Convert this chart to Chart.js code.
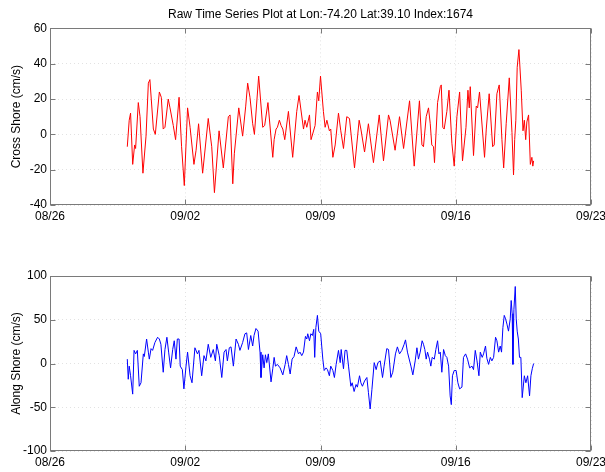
<!DOCTYPE html>
<html lang="en">
<head>
    <meta charset="UTF-8">
    <title>Raw Time Series Plot</title>
    <script src="https://cdn.jsdelivr.net/npm/chart.js"></script>
    <style>
        body { margin: 0; background: #fff; }
        .panel { position: absolute; left: 0; width: 605px; height: 236px; }
        #topPanel { top: 0; }
        #bottomPanel { top: 236px; }
    </style>
</head>
<body>
    <div class="panel" id="topPanel"><canvas id="crossChart" width="605" height="236"></canvas></div>
    <div class="panel" id="bottomPanel"><canvas id="alongChart" width="605" height="236"></canvas></div>

    <script>
        // x values are days after 08/26
        const dateLabels = ['08/26', '09/02', '09/09', '09/16', '09/23'];

        const crossDays = [
            4.00, 4.10, 4.17, 4.28, 4.38, 4.43, 4.57, 4.66, 4.81, 4.97,
            5.09, 5.17, 5.35, 5.45, 5.66, 5.76, 5.86, 5.95, 6.12, 6.21,
            6.38, 6.50, 6.68, 6.81, 6.95, 7.12, 7.25, 7.45, 7.56, 7.69,
            7.90, 8.19, 8.37, 8.51, 8.75, 8.97, 9.23, 9.32, 9.46, 9.54,
            9.77, 9.97, 10.13, 10.23, 10.35, 10.49, 10.58, 10.80, 11.01, 11.11,
            11.28, 11.53, 11.60, 11.70, 11.77, 11.87, 11.96, 12.05, 12.15, 12.34,
            12.56, 12.77, 12.89, 13.12, 13.20, 13.29, 13.43, 13.51, 13.72, 13.84,
            13.91, 14.00, 14.15, 14.24, 14.33, 14.46, 14.53, 14.64, 14.76, 14.93,
            15.05, 15.19, 15.36, 15.50, 15.76, 16.00, 16.09, 16.28, 16.48, 16.74,
            17.04, 17.26, 17.52, 17.60, 17.86, 18.09, 18.30, 18.47, 18.61, 18.85,
            19.12, 19.25, 19.33, 19.47, 19.59, 19.68, 19.76, 19.85, 19.90, 20.06,
            20.20, 20.25, 20.33, 20.40, 20.54, 20.65, 20.80, 20.92, 21.06, 21.20,
            21.35, 21.53, 21.63, 21.70, 21.75, 21.92, 22.06, 22.13, 22.23, 22.49,
            22.58, 22.73, 22.91, 22.99, 23.13, 23.25, 23.39, 23.48, 23.61, 23.77,
            23.91, 23.99, 24.05, 24.11, 24.18, 24.27, 24.39, 24.48, 24.55, 24.62,
            24.68, 24.77, 24.86, 24.94, 24.99, 25.03
        ];
        const crossShore = [
            -7, 8, 12, -17, -6, -8, 18, 10, -22, -1,
            29, 31, 3, 0, 24, 21, 3, 4, 20, 15,
            5, -3, 21, -7, -29, 15, 4, -17, -9, 6,
            -22, 9, -7, -33, 2, -19, 10, 11, -28, -11,
            15, -1, 16, 29, 21, 6, 0, 33, 4, 5,
            18, -13, -3, 3, 4, 8, 5, 3, -3, 13,
            -13, 13, 22, 3, 8, 4, 11, -3, 5, 24,
            19, 33, 13, 4, 8, 2, 3, -13, -6, 12,
            2, -8, 10, 9, -19, 8, 3, -10, 6, -16,
            11, -15, 11, 8, -9, 10, -8, 7, 19, -18,
            19, -6, -7, 10, 15, 6, -6, -7, -16, 18,
            27, 28, 4, 3, 13, 25, -5, -18, 10, 24,
            -15, 4, 25, 15, 27, -12, 16, 15, 24, -13,
            3, 23, -7, -6, 23, 28, -3, -19, 6, 32,
            1, -23, -3, 8, 38, 48, 25, 2, 8, -3,
            7, 11, -17, -13, -18, -15
        ];

        const alongDays = [
            4.00, 4.05, 4.10, 4.17, 4.28, 4.35, 4.43, 4.52, 4.62, 4.71,
            4.83, 4.88, 5.00, 5.09, 5.14, 5.23, 5.31, 5.43, 5.57, 5.66,
            5.74, 5.86, 5.95, 6.05, 6.14, 6.24, 6.35, 6.43, 6.52, 6.59,
            6.68, 6.74, 6.85, 6.93, 7.04, 7.12, 7.25, 7.35, 7.50, 7.63,
            7.71, 7.85, 7.97, 8.07, 8.19, 8.32, 8.45, 8.56, 8.63, 8.76,
            8.89, 9.01, 9.11, 9.18, 9.28, 9.37, 9.49, 9.63, 9.75, 9.83,
            9.97, 10.09, 10.18, 10.27, 10.39, 10.49, 10.56, 10.66, 10.77, 10.87,
            10.92, 11.01, 11.08, 11.15, 11.22, 11.30, 11.44, 11.53, 11.60, 11.67,
            11.77, 11.91, 12.05, 12.17, 12.25, 12.34, 12.43, 12.53, 12.63, 12.74,
            12.86, 12.94, 13.03, 13.12, 13.22, 13.29, 13.34, 13.43, 13.50, 13.58,
            13.65, 13.70, 13.76, 13.84, 13.91, 14.01, 14.12, 14.19, 14.29, 14.36,
            14.46, 14.53, 14.64, 14.72, 14.81, 14.93, 15.02, 15.07, 15.19, 15.27,
            15.36, 15.45, 15.57, 15.64, 15.74, 15.84, 15.91, 16.02, 16.09, 16.17,
            16.28, 16.40, 16.48, 16.57, 16.66, 16.78, 16.88, 16.97, 17.09, 17.21,
            17.29, 17.43, 17.52, 17.64, 17.74, 17.88, 17.98, 18.09, 18.21, 18.33,
            18.40, 18.50, 18.68, 18.78, 18.90, 18.99, 19.07, 19.16, 19.26, 19.33,
            19.40, 19.47, 19.54, 19.64, 19.71, 19.78, 19.89, 19.97, 20.06, 20.13,
            20.20, 20.28, 20.37, 20.46, 20.54, 20.63, 20.71, 20.77, 20.83, 20.92,
            21.02, 21.11, 21.20, 21.32, 21.40, 21.51, 21.61, 21.72, 21.84, 21.92,
            22.01, 22.10, 22.20, 22.27, 22.37, 22.44, 22.54, 22.61, 22.70, 22.79,
            22.87, 22.96, 23.06, 23.13, 23.22, 23.30, 23.37, 23.44, 23.51, 23.58,
            23.65, 23.73, 23.82, 23.87, 23.92, 23.96, 24.01, 24.08, 24.13, 24.18,
            24.24, 24.30, 24.37, 24.44, 24.55, 24.63, 24.72, 24.82, 24.89, 24.96,
            25.03
        ];
        const alongShore = [
            5, -18, -3, -14, -35, 15, 11, 15, -26, -22,
            11, 8, 28, 13, 5, 17, 15, 24, 30, 28,
            22, -10, 16, 30, 13, -5, 16, 26, 5, 28,
            28, -3, -7, -29, -3, 13, -14, -22, 18, 11,
            15, -14, 9, 3, 22, 7, 16, 3, 22, 9,
            -16, 13, 16, 3, 18, 19, -3, 28, 22, 15,
            24, 34, 35, 16, 32, 20, 32, 40, 37, 13,
            -16, 10, -5, 10, 1, 11, -21, -6, 7, -3,
            -1, -5, -13, -1, 9, -1, -12, 5, 8, 19,
            11, 13, 9, 13, 31, 28, 34, 26, 34, 32,
            39, 7, 41, 55, 37, 34, 5, -8, -5, -7,
            -14, -3, -8, -16, -1, 15, 1, 16, -6, 15,
            15, -3, -26, -22, -32, -24, -27, -14, -22, -26,
            -20, -16, -33, -52, -30, 1, -7, 1, 3, -16,
            -3, 17, 16, -16, -10, 11, 19, 11, 15, 22,
            27, 13, -3, -13, 3, 18, 5, 13, 26, 22,
            16, 5, 13, 5, -3, 7, 5, 16, 26, 11,
            13, -10, 16, 9, 7, -3, -37, -47, -14, -8,
            -8, -22, -29, -27, 7, 11, 5, -5, -3, -7,
            15, 3, -14, 13, 7, 11, 20, 6, -1, 7,
            3, 7, 30, 26, 13, 20, 13, 41, 55, 51,
            45, 37, 51, 72, 57, -1, 62, 88, 51, 37,
            28, 7, 7, -39, -14, -22, -14, -37, -14, -6,
            0
        ];

        const font = { family: '"Liberation Sans", Arial, Helvetica, sans-serif', size: 12 };
        Chart.defaults.font = font;
        Chart.defaults.color = '#000';

        // box around the plot area and inward tick marks
        const boxTicks = {
            id: 'boxTicks',
            afterDatasetsDraw(chart) {
                const { ctx, chartArea: a, scales: { x, y } } = chart;
                const L = Math.round(a.left) + 0.5, R = Math.round(a.right) - 0.5;
                const T = Math.round(a.top) + 0.5, B = Math.round(a.bottom) - 0.5;
                ctx.save();
                ctx.strokeStyle = '#7a7a7a';
                ctx.lineWidth = 1;
                ctx.strokeRect(L, T, R - L, B - T);
                ctx.beginPath();
                x.ticks.forEach(t => {
                    const px = Math.round(x.getPixelForValue(t.value)) + 0.5;
                    ctx.moveTo(px, B); ctx.lineTo(px, B - 5);
                    ctx.moveTo(px, T); ctx.lineTo(px, T + 5);
                });
                y.ticks.forEach(t => {
                    const py = Math.round(y.getPixelForValue(t.value)) + 0.5;
                    ctx.moveTo(L, py); ctx.lineTo(L + 5, py);
                    ctx.moveTo(R, py); ctx.lineTo(R - 5, py);
                });
                ctx.stroke();
                ctx.restore();
            }
        };

        function makeChart(id, days, values, color, yMin, yMax, yStep, yTitle, opts) {
            const points = days.map((d, i) => ({ x: d, y: values[i] }));
            return new Chart(document.getElementById(id), {
                type: 'line',
                data: {
                    datasets: [{
                        data: points,
                        borderColor: color,
                        borderWidth: 1,
                        pointRadius: 0,
                        tension: 0,
                        fill: false
                    }]
                },
                options: {
                    responsive: false,
                    animation: false,
                    layout: { padding: { top: opts.padTop, right: 14, left: 0, bottom: 0 } },
                    plugins: {
                        legend: { display: false },
                        tooltip: { enabled: false },
                        title: opts.title ? {
                            display: true,
                            text: opts.title,
                            fullSize: false,
                            font: { ...font, weight: 'normal' },
                            color: '#000',
                            padding: { top: 7, bottom: 7 }
                        } : { display: false }
                    },
                    scales: {
                        x: {
                            type: 'linear',
                            min: 0,
                            max: 28,
                            grid: { color: '#e2e2e2', drawTicks: false },
                            border: { display: false, dash: [1, 3] },
                            ticks: {
                                stepSize: 7,
                                padding: 4,
                                maxRotation: 0,
                                autoSkip: false,
                                callback: v => dateLabels[Math.round(v / 7)]
                            },
                            afterFit(scale) {
                                scale.height = opts.xHeight;
                                scale.paddingLeft = 0;
                                scale.paddingRight = 0;
                            }
                        },
                        y: {
                            min: yMin,
                            max: yMax,
                            grid: { color: '#e2e2e2', drawTicks: false },
                            border: { display: false, dash: [1, 3] },
                            ticks: { stepSize: yStep, padding: 3 },
                            title: {
                                display: true,
                                text: yTitle,
                                font: font,
                                padding: { top: 9, bottom: 0 }
                            },
                            afterFit(scale) {
                                scale.width = 50;
                                scale.paddingTop = 0;
                                scale.paddingBottom = 0;
                            }
                        }
                    }
                },
                plugins: [boxTicks]
            });
        }

        makeChart('crossChart', crossDays, crossShore, '#ff0000', -40, 60, 20, 'Cross Shore (cm/s)',
            { title: 'Raw Time Series Plot at Lon:-74.20 Lat:39.10 Index:1674', padTop: 0, xHeight: 31 });
        makeChart('alongChart', alongDays, alongShore, '#0000ff', -100, 100, 50, 'Along Shore (cm/s)',
            { padTop: 40, xHeight: 21 });
    </script>
</body>
</html>
